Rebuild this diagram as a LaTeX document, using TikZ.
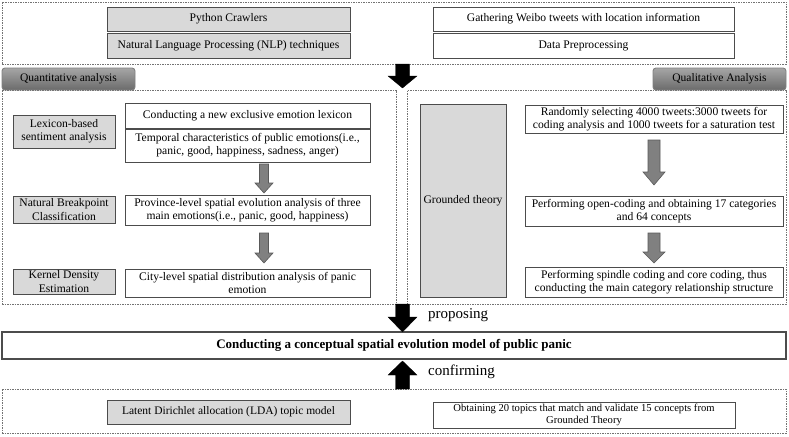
\documentclass[tikz,border=0pt]{standalone}
\usepackage{fontspec}
\setmainfont{Liberation Serif}
\begin{document}
\begin{tikzpicture}[x=1pt,y=-1pt,
  base/.style={inner sep=0pt,align=center,font=\fontsize{11.6}{13.2}\selectfont,line width=0.9pt},
  gbox/.style={base,draw=black!70,fill=black!15},
  wbox/.style={base,draw=black!70,fill=white},
  cont/.style={draw=black!55,line width=0.6pt,dash pattern=on 1.5pt off 1pt,inner sep=0pt},
  tabbox/.style={base,draw=black!50,rounded corners=3pt,top color=black!35,bottom color=black!58,font=\fontsize{11.5}{13}\selectfont},
  blackarr/.style={fill=black,draw=black,line width=0.3pt},
  grayarr/.style={fill=black!50,draw=black!65,line width=0.6pt},
  lbl/.style={inner sep=0pt,font=\fontsize{15}{17}\selectfont,anchor=west}
]
\useasboundingbox (0,0) rectangle (789,436);
% block arrow macro: x, y-start, y-end, shaft half, head half, signed head length, style
\newcommand\myarrow[7]{\path[#7] ({#1-#4},#2) -- ({#1+#4},#2) -- ({#1+#4},{#3-#6}) -- ({#1+#5},{#3-#6}) -- (#1,#3) -- ({#1-#5},{#3-#6}) -- ({#1-#4},{#3-#6}) -- cycle;}

% containers
\node[cont,minimum width=784pt,minimum height=62pt] (top) at (394,33) {};
\node[cont,minimum width=394pt,minimum height=214pt] (left) at (199,197) {};
\node[cont,minimum width=379pt,minimum height=214pt] (right) at (596.5,197) {};
\node[cont,minimum width=784pt,minimum height=44pt] (bottom) at (394,411) {};

% top row
\node[gbox,minimum width=243pt,minimum height=24pt] (py) at (228.5,19) {Python Crawlers};
\node[gbox,minimum width=243pt,minimum height=25pt] (nlp) at (228.5,45.5) {Natural Language Processing (NLP) techniques};
\node[wbox,minimum width=301pt,minimum height=24pt] (gw) at (583.5,19) {Gathering Weibo tweets with location information};
\node[wbox,minimum width=301pt,minimum height=25pt] (dp) at (583.5,45.5) {Data Preprocessing};

% tabs
\node[tabbox,minimum width=133pt,minimum height=22pt] (quant) at (68.5,79) {Quantitative analysis};
\node[tabbox,minimum width=133pt,minimum height=22pt] (qual) at (719.5,79) {Qualitative Analysis};

% left column
\node[gbox,minimum width=102pt,minimum height=33pt] (lex) at (64,131.5) {Lexicon-based\\sentiment analysis};
\node[gbox,minimum width=102pt,minimum height=27pt] (nbc) at (64,209.5) {Natural Breakpoint\\Classification};
\node[gbox,minimum width=102pt,minimum height=25pt] (kde) at (64,281.5) {Kernel Density\\Estimation};
\node[wbox,minimum width=245pt,minimum height=25pt] (cl) at (247.5,115.5) {Conducting a new exclusive emotion lexicon};
\node[wbox,minimum width=245pt,minimum height=33pt] (tc) at (247.5,145.5) {Temporal characteristics of public emotions(i.e.,\\panic, good, happiness, sadness, anger)};
\node[wbox,minimum width=245pt,minimum height=30pt] (pl) at (247.5,210) {Province-level spatial evolution analysis of three\\main emotions(i.e., panic, good, happiness)};
\node[wbox,minimum width=245pt,minimum height=28pt] (cy) at (247.5,283) {City-level spatial distribution analysis of panic\\emotion};

% right column
\node[gbox,minimum width=86pt,minimum height=193pt] (gt) at (463,200.5) {Grounded theory};
\node[wbox,minimum width=258pt,minimum height=28pt] (rs) at (654,119) {Randomly selecting 4000 tweets:3000 tweets for\\coding analysis and 1000 tweets for a saturation test};
\node[wbox,minimum width=258pt,minimum height=30pt] (oc) at (654,211) {Performing open-coding and obtaining 17 categories\\and 64 concepts};
\node[wbox,minimum width=258pt,minimum height=30pt] (sc) at (654,282) {Performing spindle coding and core coding, thus\\conducting the main category relationship structure};

% main box
\node[wbox,line width=1.1pt,minimum width=784pt,minimum height=27pt,font=\bfseries\fontsize{13}{15}\selectfont] (main) at (394,345.5) {Conducting a conceptual spatial evolution model of public panic};

% bottom row
\node[gbox,minimum width=243pt,minimum height=24pt,font=\fontsize{11.5}{13}\selectfont] (lda) at (228.5,412) {Latent Dirichlet allocation (LDA) topic model};
\node[wbox,minimum width=302pt,minimum height=26pt,font=\fontsize{10.6}{12.5}\selectfont] (ob) at (584,415) {Obtaining 20 topics that match and validate 15 concepts from\\Grounded Theory};

% arrows
\myarrow{402.5}{64}{88}{7}{14.5}{12}{blackarr}
\myarrow{402.5}{304}{332}{7}{14.5}{15}{blackarr}
\myarrow{402.5}{389}{361}{7}{14.5}{-14}{blackarr}
\myarrow{264}{164}{193}{4.5}{9}{10}{grayarr}
\myarrow{264}{233}{263}{4.5}{9}{10}{grayarr}
\myarrow{654}{140}{185}{6}{11}{13}{grayarr}
\myarrow{654}{233}{263}{6}{11}{11}{grayarr}

\node[lbl] (prop) at (428,315) {proposing};
\node[lbl] (conf) at (428,372) {confirming};
\end{tikzpicture}
\end{document}
